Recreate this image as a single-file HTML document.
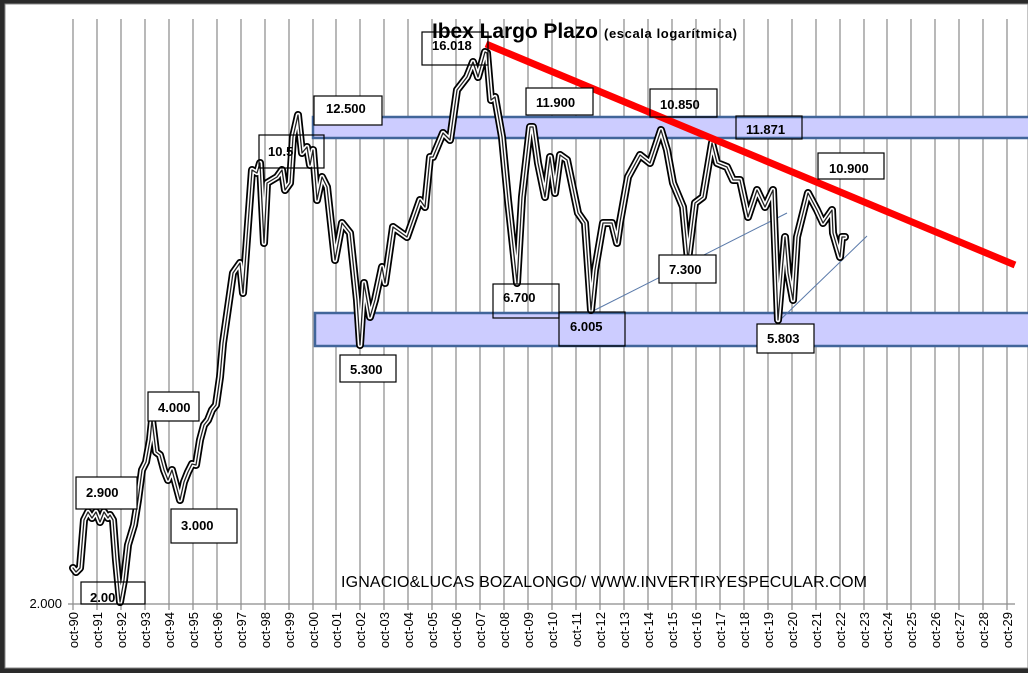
<!DOCTYPE html>
<html><head><meta charset="utf-8"><style>
html,body{margin:0;padding:0;background:#2a2a2a;}
svg{display:block;font-family:"Liberation Sans",Arial,sans-serif;}
</style></head><body>
<svg width="1028" height="673" viewBox="0 0 1028 673" xmlns="http://www.w3.org/2000/svg">
<rect x="0" y="0" width="1028" height="673" fill="#2a2a2a"/>
<rect x="5" y="4" width="1023" height="664" fill="#fff" stroke="#888" stroke-width="1"/>
<g stroke="#8a8a8a" stroke-width="1.2">
<line x1="73" y1="19" x2="73" y2="610"/><line x1="97" y1="19" x2="97" y2="610"/><line x1="121" y1="19" x2="121" y2="610"/><line x1="145" y1="19" x2="145" y2="610"/><line x1="169" y1="19" x2="169" y2="610"/><line x1="193" y1="19" x2="193" y2="610"/><line x1="217" y1="19" x2="217" y2="610"/><line x1="241" y1="19" x2="241" y2="610"/><line x1="265" y1="19" x2="265" y2="610"/><line x1="289" y1="19" x2="289" y2="610"/><line x1="313" y1="19" x2="313" y2="610"/><line x1="336" y1="19" x2="336" y2="610"/><line x1="360" y1="19" x2="360" y2="610"/><line x1="384" y1="19" x2="384" y2="610"/><line x1="408" y1="19" x2="408" y2="610"/><line x1="432" y1="19" x2="432" y2="610"/><line x1="456" y1="19" x2="456" y2="610"/><line x1="480" y1="19" x2="480" y2="610"/><line x1="504" y1="19" x2="504" y2="610"/><line x1="528" y1="19" x2="528" y2="610"/><line x1="552" y1="19" x2="552" y2="610"/><line x1="576" y1="19" x2="576" y2="610"/><line x1="600" y1="19" x2="600" y2="610"/><line x1="624" y1="19" x2="624" y2="610"/><line x1="648" y1="19" x2="648" y2="610"/><line x1="672" y1="19" x2="672" y2="610"/><line x1="696" y1="19" x2="696" y2="610"/><line x1="720" y1="19" x2="720" y2="610"/><line x1="744" y1="19" x2="744" y2="610"/><line x1="768" y1="19" x2="768" y2="610"/><line x1="792" y1="19" x2="792" y2="610"/><line x1="816" y1="19" x2="816" y2="610"/><line x1="840" y1="19" x2="840" y2="610"/><line x1="864" y1="19" x2="864" y2="610"/><line x1="887" y1="19" x2="887" y2="610"/><line x1="911" y1="19" x2="911" y2="610"/><line x1="935" y1="19" x2="935" y2="610"/><line x1="959" y1="19" x2="959" y2="610"/><line x1="983" y1="19" x2="983" y2="610"/><line x1="1007" y1="19" x2="1007" y2="610"/>
<line x1="68" y1="604" x2="1015" y2="604"/>
</g>
<text x="62" y="608" text-anchor="end" font-size="13" fill="#000">2.000</text>
<g font-size="13" fill="#000" text-anchor="end">
<text transform="translate(78,612) rotate(-90)">oct-90</text><text transform="translate(102,612) rotate(-90)">oct-91</text><text transform="translate(126,612) rotate(-90)">oct-92</text><text transform="translate(150,612) rotate(-90)">oct-93</text><text transform="translate(174,612) rotate(-90)">oct-94</text><text transform="translate(198,612) rotate(-90)">oct-95</text><text transform="translate(222,612) rotate(-90)">oct-96</text><text transform="translate(246,612) rotate(-90)">oct-97</text><text transform="translate(270,612) rotate(-90)">oct-98</text><text transform="translate(294,612) rotate(-90)">oct-99</text><text transform="translate(318,612) rotate(-90)">oct-00</text><text transform="translate(341,612) rotate(-90)">oct-01</text><text transform="translate(365,612) rotate(-90)">oct-02</text><text transform="translate(389,612) rotate(-90)">oct-03</text><text transform="translate(413,612) rotate(-90)">oct-04</text><text transform="translate(437,612) rotate(-90)">oct-05</text><text transform="translate(461,612) rotate(-90)">oct-06</text><text transform="translate(485,612) rotate(-90)">oct-07</text><text transform="translate(509,612) rotate(-90)">oct-08</text><text transform="translate(533,612) rotate(-90)">oct-09</text><text transform="translate(557,612) rotate(-90)">oct-10</text><text transform="translate(581,612) rotate(-90)">oct-11</text><text transform="translate(605,612) rotate(-90)">oct-12</text><text transform="translate(629,612) rotate(-90)">oct-13</text><text transform="translate(653,612) rotate(-90)">oct-14</text><text transform="translate(677,612) rotate(-90)">oct-15</text><text transform="translate(701,612) rotate(-90)">oct-16</text><text transform="translate(725,612) rotate(-90)">oct-17</text><text transform="translate(749,612) rotate(-90)">oct-18</text><text transform="translate(773,612) rotate(-90)">oct-19</text><text transform="translate(797,612) rotate(-90)">oct-20</text><text transform="translate(821,612) rotate(-90)">oct-21</text><text transform="translate(845,612) rotate(-90)">oct-22</text><text transform="translate(869,612) rotate(-90)">oct-23</text><text transform="translate(892,612) rotate(-90)">oct-24</text><text transform="translate(916,612) rotate(-90)">oct-25</text><text transform="translate(940,612) rotate(-90)">oct-26</text><text transform="translate(964,612) rotate(-90)">oct-27</text><text transform="translate(988,612) rotate(-90)">oct-28</text><text transform="translate(1012,612) rotate(-90)">oct-29</text>
</g>
<rect x="313" y="117" width="720" height="21" fill="#ccccff" stroke="#41659a" stroke-width="2.5"/>
<rect x="315" y="313" width="720" height="33" fill="#ccccff" stroke="#41659a" stroke-width="2.5"/>
<line x1="591" y1="312" x2="787" y2="213" stroke="#5a7aaa" stroke-width="1"/>
<line x1="778" y1="322" x2="867" y2="236" stroke="#5a7aaa" stroke-width="1"/>
<g fill="none" stroke-linejoin="round" stroke-linecap="round">
<polyline stroke="#000" stroke-width="8" points="73,568 76,572 80,568 84,520 88,512 92,518 96,512 100,522 104,512 108,518 110,515 113,520 116,560 120,602 124,580 128,545 134,525 138,500 142,470 146,462 150,440 152,420 156,452 160,455 164,470 168,480 172,470 176,485 180,500 184,482 188,472 192,464 196,465 200,440 204,425 208,420 212,410 216,405 220,377 223,343 233,273 240,263 243,293 252,170 257,173 260,163 264,243 267,183 277,177 282,170 285,190 290,183 293,137 298,115 302,153 307,147 310,165 313,150 317,200 322,177 327,187 335,260 342,223 350,233 357,300 360,345 364,283 370,317 375,300 382,267 385,283 393,227 407,237 420,200 425,207 430,157 433,157 443,133 450,140 457,90 467,77 473,62 478,77 485,52 487,53 491,100 495,97 502,137 508,200 517,283 522,197 530,127 533,127 538,163 545,197 550,157 555,193 560,155 567,160 578,213 585,223 591,310 595,270 603,223 612,223 617,243 620,222 628,177 640,155 650,163 661,130 667,150 673,183 683,207 688,260 695,203 703,197 712,143 717,163 727,167 733,180 740,180 748,217 757,190 765,207 773,190 778,320 785,237 788,273 793,300 797,237 808,193 817,210 823,223 832,210 833,233 840,257 842,237 845,237"/>
<polyline stroke="#fff" stroke-width="4.5" points="73,568 76,572 80,568 84,520 88,512 92,518 96,512 100,522 104,512 108,518 110,515 113,520 116,560 120,602 124,580 128,545 134,525 138,500 142,470 146,462 150,440 152,420 156,452 160,455 164,470 168,480 172,470 176,485 180,500 184,482 188,472 192,464 196,465 200,440 204,425 208,420 212,410 216,405 220,377 223,343 233,273 240,263 243,293 252,170 257,173 260,163 264,243 267,183 277,177 282,170 285,190 290,183 293,137 298,115 302,153 307,147 310,165 313,150 317,200 322,177 327,187 335,260 342,223 350,233 357,300 360,345 364,283 370,317 375,300 382,267 385,283 393,227 407,237 420,200 425,207 430,157 433,157 443,133 450,140 457,90 467,77 473,62 478,77 485,52 487,53 491,100 495,97 502,137 508,200 517,283 522,197 530,127 533,127 538,163 545,197 550,157 555,193 560,155 567,160 578,213 585,223 591,310 595,270 603,223 612,223 617,243 620,222 628,177 640,155 650,163 661,130 667,150 673,183 683,207 688,260 695,203 703,197 712,143 717,163 727,167 733,180 740,180 748,217 757,190 765,207 773,190 778,320 785,237 788,273 793,300 797,237 808,193 817,210 823,223 832,210 833,233 840,257 842,237 845,237"/>
<polyline stroke="#222" stroke-width="1.3" points="73,568 76,572 80,568 84,520 88,512 92,518 96,512 100,522 104,512 108,518 110,515 113,520 116,560 120,602 124,580 128,545 134,525 138,500 142,470 146,462 150,440 152,420 156,452 160,455 164,470 168,480 172,470 176,485 180,500 184,482 188,472 192,464 196,465 200,440 204,425 208,420 212,410 216,405 220,377 223,343 233,273 240,263 243,293 252,170 257,173 260,163 264,243 267,183 277,177 282,170 285,190 290,183 293,137 298,115 302,153 307,147 310,165 313,150 317,200 322,177 327,187 335,260 342,223 350,233 357,300 360,345 364,283 370,317 375,300 382,267 385,283 393,227 407,237 420,200 425,207 430,157 433,157 443,133 450,140 457,90 467,77 473,62 478,77 485,52 487,53 491,100 495,97 502,137 508,200 517,283 522,197 530,127 533,127 538,163 545,197 550,157 555,193 560,155 567,160 578,213 585,223 591,310 595,270 603,223 612,223 617,243 620,222 628,177 640,155 650,163 661,130 667,150 673,183 683,207 688,260 695,203 703,197 712,143 717,163 727,167 733,180 740,180 748,217 757,190 765,207 773,190 778,320 785,237 788,273 793,300 797,237 808,193 817,210 823,223 832,210 833,233 840,257 842,237 845,237"/>
</g>
<line x1="486" y1="44" x2="1015" y2="265" stroke="#ff0000" stroke-width="7"/>
<g fill="#fff" stroke="#000" stroke-width="1.2">
<rect x="422" y="32" width="66" height="33" fill="none"/>
<rect x="314" y="96" width="68" height="29"/>
<rect x="526" y="88" width="67" height="27"/>
<rect x="650" y="89" width="67" height="28" fill="none"/>
<rect x="736" y="116" width="66" height="23" fill="none"/>
<rect x="818" y="153" width="66" height="26"/>
<rect x="259" y="135" width="65" height="33" fill="none"/>
<rect x="493" y="284" width="66" height="34" fill="none"/>
<rect x="559" y="312" width="66" height="34" fill="none"/>
<rect x="659" y="255" width="57" height="28"/>
<rect x="757" y="324" width="57" height="29"/>
<rect x="340" y="355" width="56" height="27"/>
<rect x="148" y="392" width="51" height="29"/>
<rect x="76" y="477" width="61" height="32"/>
<rect x="171" y="509" width="66" height="34"/>
<rect x="81" y="582" width="64" height="22" fill="none"/>
</g>
<g font-size="13" font-weight="bold" fill="#000">
<text x="432" y="50">16.018</text>
<text x="326" y="113">12.500</text>
<text x="536" y="107">11.900</text>
<text x="660" y="109">10.850</text>
<text x="746" y="134">11.871</text>
<text x="829" y="173">10.900</text>
<text x="268" y="156">10.5</text>
<text x="503" y="302">6.700</text>
<text x="570" y="331">6.005</text>
<text x="669" y="274">7.300</text>
<text x="767" y="343">5.803</text>
<text x="350" y="374">5.300</text>
<text x="158" y="412">4.000</text>
<text x="86" y="497">2.900</text>
<text x="181" y="530">3.000</text>
<text x="90" y="602">2.00</text>
</g>
<text x="432" y="38" font-size="21" font-weight="bold" fill="#000" textLength="166">Ibex Largo Plazo</text>
<text x="604" y="38" font-size="13" font-weight="bold" fill="#000" textLength="133">(escala logarítmica)</text>
<text x="341" y="587" font-size="16" fill="#000" textLength="526">IGNACIO&amp;LUCAS BOZALONGO/ WWW.INVERTIRYESPECULAR.COM</text>
</svg>
</body></html>
